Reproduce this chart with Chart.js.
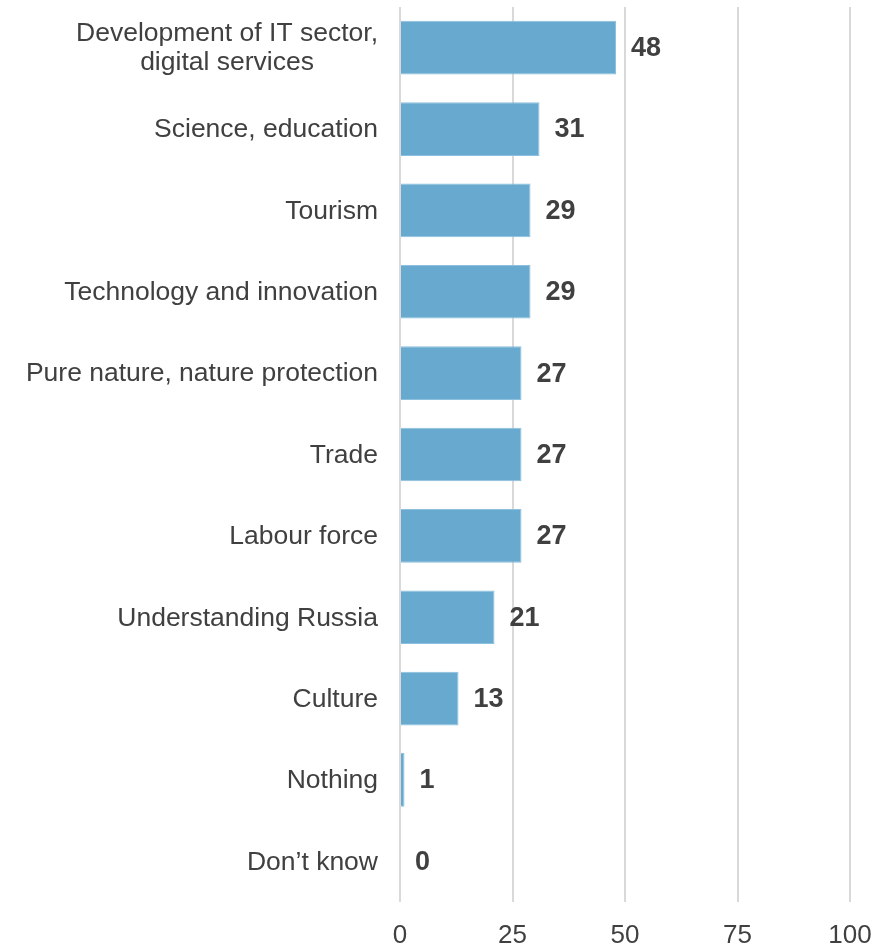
<!DOCTYPE html>
<html>
<head>
<meta charset="utf-8">
<script src="https://cdn.jsdelivr.net/npm/chart.js@4/dist/chart.umd.min.js"></script>
<style>
  html, body { margin: 0; padding: 0; background: #fff; overflow: hidden; }
  #wrap { width: 885px; height: 945px; position: relative; }
</style>
</head>
<body>
<div id="wrap"><canvas id="areasChart"></canvas></div>
<script>
// Areas of cooperation, % of respondents
const categories = [
    ['Development of IT sector,', 'digital services'],
    'Science, education',
    'Tourism',
    'Technology and innovation',
    'Pure nature, nature protection',
    'Trade',
    'Labour force',
    'Understanding Russia',
    'Culture',
    'Nothing',
    'Don\u2019t know'
];
const shares = [48, 31, 29, 29, 27, 27, 27, 21, 13, 1, 0];
const xTicks = [0, 25, 50, 75, 100];

const FONT = '"Liberation Sans", Arial, sans-serif';
const TEXT = '#404040';

// Category names: single lines right-aligned, wrapped names centred on their widest line
const categoryLabels = {
    id: 'categoryLabels',
    afterDraw(chart) {
        const ctx = chart.ctx;
        const y = chart.scales.y;
        const right = chart.chartArea.left - 22;
        const lineH = 29;
        ctx.save();
        ctx.font = '26.5px ' + FONT;
        ctx.fillStyle = TEXT;
        ctx.textBaseline = 'middle';
        categories.forEach((label, i) => {
            const cy = y.getPixelForValue(i) + 1;
            if (Array.isArray(label)) {
                const w = Math.max(...label.map(l => ctx.measureText(l).width));
                ctx.textAlign = 'center';
                label.forEach((line, k) => {
                    ctx.fillText(line, right - w / 2, cy + (k - (label.length - 1) / 2) * lineH);
                });
            } else {
                ctx.textAlign = 'right';
                ctx.fillText(label, right, cy);
            }
        });
        ctx.restore();
    }
};

// Value labels just past the end of each bar
const valueLabels = {
    id: 'valueLabels',
    afterDatasetsDraw(chart) {
        const ctx = chart.ctx;
        const meta = chart.getDatasetMeta(0);
        ctx.save();
        ctx.font = 'bold 27px ' + FONT;
        ctx.fillStyle = TEXT;
        ctx.textAlign = 'left';
        ctx.textBaseline = 'middle';
        meta.data.forEach((bar, i) => {
            ctx.fillText(String(shares[i]), bar.x + 15, bar.y + 1);
        });
        ctx.restore();
    }
};

new Chart(document.getElementById('areasChart'), {
    type: 'bar',
    data: {
        labels: categories,
        datasets: [{
            data: shares,
            backgroundColor: '#67a9cf',
            borderColor: '#8cc0de',
            borderWidth: 1,
            categoryPercentage: 1,
            barPercentage: 0.66
        }]
    },
    options: {
        indexAxis: 'y',
        responsive: true,
        maintainAspectRatio: false,
        animation: false,
        layout: { padding: { top: 7, right: 35, bottom: 0, left: 0 } },
        plugins: {
            legend: { display: false },
            tooltip: { enabled: false }
        },
        scales: {
            x: {
                min: 0,
                max: 100,
                afterBuildTicks: scale => { scale.ticks = xTicks.map(v => ({ value: v })); },
                grid: { color: '#d9d9d9', lineWidth: 2, drawTicks: false },
                border: { display: false },
                ticks: {
                    color: TEXT,
                    padding: 18,
                    maxRotation: 0,
                    font: { family: FONT, size: 26 }
                },
                afterFit: scale => {
                    scale.height = 43;
                    scale.paddingLeft = 0;
                    scale.paddingRight = 0;
                }
            },
            y: {
                grid: { display: false },
                border: { display: false },
                ticks: { display: false },
                afterFit: scale => { scale.width = 400; }
            }
        }
    },
    plugins: [categoryLabels, valueLabels]
});
</script>
</body>
</html>
